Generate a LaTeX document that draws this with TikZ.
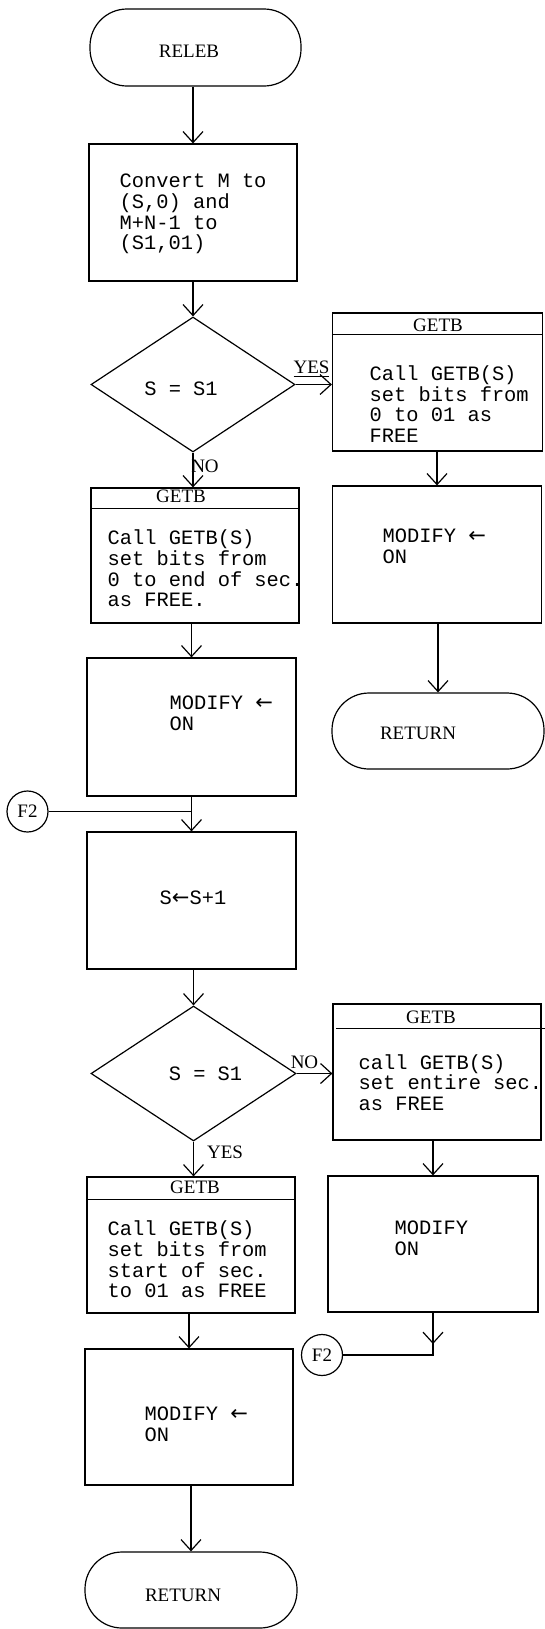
\documentclass[tikz,border=0pt]{standalone}
\usepackage{fontspec}
\setmainfont{Liberation Serif}
\newfontfamily\monof{Liberation Mono}
\newfontfamily\arrf{DejaVu Sans}
\newcommand{\larr}{{\arrf\fontsize{10.5}{10.35}\selectfont ←}}
\usetikzlibrary{shapes.geometric,arrows.meta}
\begin{document}
\begin{tikzpicture}[x=0.5pt,y=-0.5pt,
  line width=0.6pt,
  box/.style={draw,rectangle,inner sep=0pt},
  term/.style={draw,rectangle,rounded corners=18.5pt,inner sep=0pt},
  dec/.style={draw,diamond,inner sep=0pt},
  conn/.style={draw,circle,inner sep=0pt,minimum size=20.5pt,font=\fontsize{9.5}{11}\selectfont},
  mono/.style={font=\monof\fontsize{10.2}{10.35}\selectfont,align=left,inner sep=0pt,anchor=west},
  serif/.style={font=\fontsize{9.5}{11}\selectfont,inner sep=0pt},
  arr/.style={-{Straight Barb[length=5.5pt,width=10pt]}},
]
\useasboundingbox (0,0) rectangle (545,1629);

% --- top
\node[term,minimum width=105.5pt,minimum height=38.5pt] (releb) at (195.5,47.5) {};
\node[serif] (relebt) at (189,51) {RELEB};
\node[box,minimum width=104pt,minimum height=68.5pt] (conv) at (193,212.5) {};
\node[mono] (convt) at (119,214) {Convert M to\\(S,0) and\\M+N-1 to\\(S1,01)};

% --- first decision
\node[dec,minimum width=102pt,minimum height=67.5pt] (dia1) at (193,384.5) {};
\node[mono,anchor=center] (dia1t) at (181,389) {S = S1};
\node[serif] (yes1) at (311.5,369) {\underline{YES}};
\node[serif] (no1) at (205,466) {NO};

% --- right branch 1
\node[box,minimum width=105pt,minimum height=69pt] (getbR1) at (437.5,382) {};
\draw ([yshift=-11pt]getbR1.north west) -- ([yshift=-11pt]getbR1.north east);
\node[serif] (getbR1h) at (438,325) {GETB};
\node[mono] (getbR1t) at (369,404) {Call GETB(S)\\set bits from\\0 to 01 as\\FREE};
\node[box,minimum width=104.5pt,minimum height=68.5pt] (modR1) at (437,554.5) {};
\node[mono] (modR1t) at (382,546.5) {MODIFY \larr\\ON};
\node[term,minimum width=106pt,minimum height=38pt] (retR) at (438,731) {};
\node[serif] (retRt) at (418,733) {RETURN};

% --- left branch 1
\node[box,minimum width=104pt,minimum height=67.5pt] (getbL1) at (195,555.5) {};
\draw ([yshift=-10.5pt]getbL1.north west) -- ([yshift=-10.5pt]getbL1.north east);
\node[serif] (getbL1h) at (181,496) {GETB};
\node[mono] (getbL1t) at (107,568.5) {Call GETB(S)\\set bits from\\0 to end of sec.\\as FREE.};
\node[box,minimum width=104.5pt,minimum height=69pt] (modL1) at (191.5,727) {};
\node[mono] (modL1t) at (169,713) {MODIFY \larr\\ON};

% --- loop
\node[conn] (F2a) at (27.5,811.5) {F2};
\node[box,minimum width=104.5pt,minimum height=68.5pt] (sbox) at (191.5,900.5) {};
\node[mono,anchor=center] (sboxt) at (193,898) {S\larr S+1};
\node[dec,minimum width=102.5pt,minimum height=67.5pt] (dia2) at (193.5,1073.5) {};
\node[mono,anchor=center] (dia2t) at (205.5,1074) {S = S1};
\node[serif] (no2) at (304.5,1062) {NO};
\node[serif] (yes2) at (225,1152) {YES};

% --- right branch 2
\node[box,minimum width=104pt,minimum height=68pt] (getbR2) at (437,1072) {};
\draw ([xshift=2pt,yshift=-12.5pt]getbR2.north west) -- ([xshift=1.5pt,yshift=-12.5pt]getbR2.north east);
\node[serif] (getbR2h) at (431,1017) {GETB};
\node[mono] (getbR2t) at (358,1082.5) {call GETB(S)\\set entire sec.\\as FREE};
\node[box,minimum width=105pt,minimum height=68pt] (modR2) at (433,1244) {};
\node[mono] (modR2t) at (394,1238) {MODIFY\\ON};
\node[conn] (F2b) at (322,1355) {F2};
\coordinate (f2tip) at (433,1344);

% --- left branch 2
\node[box,minimum width=104pt,minimum height=68pt] (getbL2) at (191,1245) {};
\draw ([yshift=-11.5pt]getbL2.north west) -- ([yshift=-11.5pt]getbL2.north east);
\node[serif] (getbL2h) at (195,1187) {GETB};
\node[mono] (getbL2t) at (107,1259.5) {Call GETB(S)\\set bits from\\start of sec.\\to 01 as FREE};
\node[box,minimum width=104pt,minimum height=68pt] (modL2) at (189,1417) {};
\node[mono] (modL2t) at (144,1424) {MODIFY \larr\\ON};
\node[term,minimum width=106pt,minimum height=38pt] (retL) at (191,1590) {};
\node[serif] (retLt) at (183,1595) {RETURN};

% --- connectors
\draw[arr] (conv.north |- releb.south) -- (conv.north);
\draw[arr] (dia1.north |- conv.south) -- (dia1.north);
\draw[arr] (dia1.east) -- (dia1.east -| getbR1.west);
\draw[arr] (dia1.south) -- (dia1.south |- getbL1.north);
\draw[arr] (modR1.north |- getbR1.south) -- (modR1.north);
\draw[arr] (retR.north |- modR1.south) -- (retR.north);
\draw[arr] (modL1.north |- getbL1.south) -- (modL1.north);
\draw[arr] (sbox.north |- modL1.south) -- (sbox.north);
\draw (F2a.east) -- (F2a.east -| sbox.north);
\draw[arr] (dia2.north |- sbox.south) -- (dia2.north);
\draw[arr] (dia2.east) -- (dia2.east -| getbR2.west);
\draw[arr] (dia2.south) -- (dia2.south |- getbL2.north);
\draw[arr] (modR2.north |- getbR2.south) -- (modR2.north);
\draw[arr] (modR2.south) -- (modR2.south |- f2tip);
\draw (modR2.south) -- (modR2.south |- F2b.east) -- (F2b.east);
\draw[arr] (modL2.north |- getbL2.south) -- (modL2.north);
\draw[arr] (retL.north |- modL2.south) -- (retL.north);
\end{tikzpicture}
\end{document}
